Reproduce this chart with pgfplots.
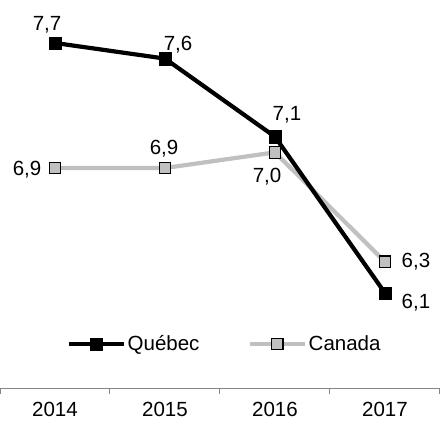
\documentclass[border=0pt]{standalone}
\usepackage{pgfplots}
\pgfplotsset{compat=1.18}
\usepackage{pgfplotstable}
\usepackage{fontspec}
\setmainfont{Liberation Sans}
\definecolor{cgray}{HTML}{C0C0C0}
\definecolor{axgray}{HTML}{868686}

\pgfplotstableread{
x y lab dx dy
0 7.7 7,7 -8 12
1 7.6 7,6 13 8
2 7.1 7,1 12 16
3 6.1 6,1 31 -15
}\quebec
\pgfplotstableread{
x y lab dx dy
0 6.9 6,9 -28 -7
1 6.9 6,9 -1 14
2 7.0 7,0 -8 -30
3 6.3 6,3 31 -6
}\canada

\newcommand{\bigfont}{\fontsize{20.5}{24}\selectfont}
\pgfplotsset{
  labelled/.style={
    point meta=explicit symbolic,
    nodes near coords,
    visualization depends on={\thisrow{dx}\as\mydx},
    visualization depends on={\thisrow{dy}\as\mydy},
    every node near coord/.append style={font=\bigfont, text=black, anchor=base, inner sep=0pt, xshift=\mydx pt, yshift=\mydy pt},
  }
}

\begin{document}
\begin{tikzpicture}
\useasboundingbox (0pt,-33pt) rectangle (440pt,389pt);
\begin{axis}[
  at={(0pt,0pt)}, anchor=south west,
  scale only axis, width=440pt, height=389pt,
  xmin=-0.5, xmax=3.5, ymin=5.486, ymax=7.975,
  axis y line=none,
  axis x line*=bottom,
  x axis line style={axgray, line width=1pt},
  xtick={0,1,2,3},
  xticklabels={2014,2015,2016,2017},
  major x tick style={draw=none},
  minor xtick={-0.5,0.5,1.5,2.5,3.5},
  minor x tick style={axgray, line width=1pt},
  minor tick length=5pt,
  xtick align=outside,
  xticklabel style={font=\bigfont, inner sep=0pt, anchor=north, yshift=-9pt},
  clip=false,
  legend style={at={(axis cs:1.541,5.774)}, anchor=center, draw=none, fill=none,
    font=\bigfont, inner sep=0pt,
    /tikz/every even column/.append style={column sep=46pt},
    nodes={inner sep=2pt}},
  legend columns=2,
  legend image code/.code={\draw[mark repeat=2, mark phase=2] plot coordinates {(0pt,0pt) (27.5pt,0pt) (55pt,0pt)};},
]
\addplot[cgray, line width=4.2pt, forget plot] table[x=x, y=y] {\canada};
\addplot[black, line width=4.2pt, mark=square*, mark size=6.2pt,
  mark options={solid, fill=black, line width=0.5pt},
  labelled] table[x=x, y=y, meta=lab] {\quebec};
\addlegendentry{Québec}
\addplot[only marks, mark=square*, mark size=5.8pt,
  mark options={solid, fill=cgray, draw=black, line width=1.2pt},
  labelled, forget plot] table[x=x, y=y, meta=lab] {\canada};
\addlegendimage{cgray, line width=4.2pt, mark=square*, mark size=5.8pt, mark options={solid, fill=cgray, draw=black, line width=1.2pt}}
\addlegendentry{Canada}
\end{axis}
\end{tikzpicture}
\end{document}
